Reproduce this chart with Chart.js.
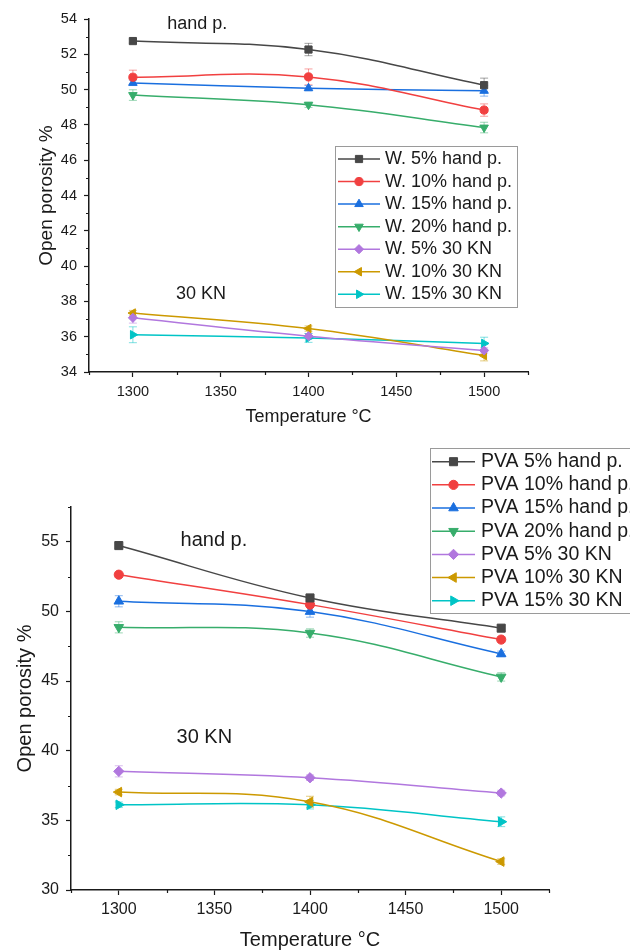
<!DOCTYPE html>
<html>
<head>
<meta charset="utf-8">
<title>Open porosity vs temperature</title>
<script src="https://cdn.jsdelivr.net/npm/chart.js@4/dist/chart.umd.min.js"></script>
<style>
  html, body { margin: 0; padding: 0; background: #ffffff; }
  #wrap { position: relative; width: 630px; height: 950px; overflow: hidden; background: #ffffff; }
  .panel { position: absolute; left: 0; width: 630px; }
</style>
</head>
<body>
<div id="wrap">
  <div class="panel" style="top:0;height:440px"><canvas id="topChart" width="630" height="440"></canvas></div>
  <div class="panel" style="top:440px;height:510px"><canvas id="bottomChart" width="630" height="510"></canvas></div>
</div>
<script>
// ---- shared x values -------------------------------------------------------
const temperatures = [1300, 1400, 1500];
const xMajorTicks = [1300, 1350, 1400, 1450, 1500];
const xMinorTicks = [1275, 1325, 1375, 1425, 1475, 1525];

// ---- upper panel: W. series ------------------------------------------------
const wLabels = ['W. 5% hand p.', 'W. 10% hand p.', 'W. 15% hand p.', 'W. 20% hand p.',
                 'W. 5% 30 KN', 'W. 10% 30 KN', 'W. 15% 30 KN'];
const w5Hand   = [52.75, 52.27, 50.25];
const w10Hand  = [50.70, 50.72, 48.84];
const w15Hand  = [50.38, 50.08, 49.93];
const w20Hand  = [49.69, 49.14, 47.85];
const w5Kn     = [37.07, 36.03, 35.22];
const w10Kn    = [37.34, 36.46, 34.93];
const w15Kn    = [36.11, 35.93, 35.62];
const w5HandErr  = [0.12, 0.35, 0.40];
const w10HandErr = [0.40, 0.45, 0.35];
const w15HandErr = [0.15, 0.15, 0.30];
const w20HandErr = [0.30, 0.15, 0.30];
const w5KnErr    = [0.30, 0.15, 0.15];
const w10KnErr   = [0.15, 0.15, 0.30];
const w15KnErr   = [0.45, 0.25, 0.35];
const topYTicks = [34, 36, 38, 40, 42, 44, 46, 48, 50, 52, 54];
const topYMinor = [35, 37, 39, 41, 43, 45, 47, 49, 51, 53];

// ---- lower panel: PVA series -----------------------------------------------
const pvaLabels = ['PVA 5% hand p.', 'PVA 10% hand p.', 'PVA 15% hand p.', 'PVA 20% hand p.',
                   'PVA 5% 30 KN', 'PVA 10% 30 KN', 'PVA 15% 30 KN'];
const pva5Hand  = [54.73, 50.97, 48.80];
const pva10Hand = [52.64, 50.49, 47.98];
const pva15Hand = [50.73, 49.99, 46.95];
const pva20Hand = [48.86, 48.45, 45.30];
const pva5Kn    = [38.52, 38.06, 36.96];
const pva10Kn   = [37.03, 36.33, 32.04];
const pva15Kn   = [36.12, 36.12, 34.90];
const pva5HandErr  = [0.20, 0.20, 0.20];
const pva10HandErr = [0.20, 0.20, 0.20];
const pva15HandErr = [0.40, 0.40, 0.20];
const pva20HandErr = [0.40, 0.30, 0.30];
const pva5KnErr    = [0.40, 0.20, 0.20];
const pva10KnErr   = [0.20, 0.40, 0.20];
const pva15KnErr   = [0.20, 0.30, 0.35];
const bottomYTicks = [30, 35, 40, 45, 50, 55];
const bottomYMinor = [32.5, 37.5, 42.5, 47.5, 52.5, 57.5];

// ---- series appearance -------------------------------------------------------
const seriesStyles = [
  { color: '#474747', pointStyle: 'rect',     rotation: 0,   radius: 6.2 },
  { color: '#F14040', pointStyle: 'circle',   rotation: 0,   radius: 5 },
  { color: '#1A6FDF', pointStyle: 'triangle', rotation: 0,   radius: 6 },
  { color: '#37AD6B', pointStyle: 'triangle', rotation: 180, radius: 6 },
  { color: '#B177DE', pointStyle: 'rectRot',  rotation: 0,   radius: 5.6 },
  { color: '#CC9900', pointStyle: 'triangle', rotation: 270, radius: 6 },
  { color: '#00C4C6', pointStyle: 'triangle', rotation: 90,  radius: 6 }
];

const FONT = "'Liberation Sans', Arial, Helvetica, sans-serif";
const INK = '#1a1a1a';

function hexToRgba(hex, a) {
  const n = parseInt(hex.slice(1), 16);
  return 'rgba(' + ((n >> 16) & 255) + ',' + ((n >> 8) & 255) + ',' + (n & 255) + ',' + a + ')';
}

function buildDatasets(labels, seriesValues, seriesErrors, markerScale) {
  return labels.map((label, i) => {
    const st = seriesStyles[i];
    const r = st.radius * markerScale;
    return {
      label: label,
      data: temperatures.map((t, j) => ({ x: t, y: seriesValues[i][j] })),
      errors: seriesErrors[i],
      borderColor: st.color,
      backgroundColor: st.color,
      borderWidth: 1.5,
      tension: 0.4,
      pointStyle: st.pointStyle,
      pointRotation: st.rotation,
      pointRadius: r,
      pointHoverRadius: r,
      pointBorderWidth: 1,
      pointBorderColor: st.color,
      pointBackgroundColor: st.color,
      clip: false
    };
  });
}

// vertical error bars with caps, drawn under the markers
const errorBarPlugin = {
  id: 'errorBars',
  beforeDatasetsDraw(chart) {
    const ctx = chart.ctx;
    const yScale = chart.scales.y;
    chart.data.datasets.forEach((ds, i) => {
      if (!ds.errors) return;
      const meta = chart.getDatasetMeta(i);
      ctx.save();
      ctx.strokeStyle = hexToRgba(ds.borderColor, 0.5);
      ctx.lineWidth = 1;
      meta.data.forEach((pt, j) => {
        const v = ds.data[j].y, e = ds.errors[j];
        const yHi = yScale.getPixelForValue(v + e);
        const yLo = yScale.getPixelForValue(v - e);
        const x = pt.x;
        ctx.beginPath();
        ctx.moveTo(x, yHi); ctx.lineTo(x, yLo);
        ctx.moveTo(x - 4, yHi); ctx.lineTo(x + 4, yHi);
        ctx.moveTo(x - 4, yLo); ctx.lineTo(x + 4, yLo);
        ctx.stroke();
      });
      ctx.restore();
    });
  }
};

// short minor tick marks on both axes
const minorTickPlugin = {
  id: 'minorTicks',
  afterDraw(chart, args, opts) {
    const ctx = chart.ctx;
    const area = chart.chartArea;
    const xs = chart.scales.x, ys = chart.scales.y;
    ctx.save();
    ctx.strokeStyle = INK;
    ctx.lineWidth = 1.2;
    ctx.beginPath();
    (opts.x || []).forEach(v => {
      const px = Math.round(xs.getPixelForValue(v)) + 0.5;
      ctx.moveTo(px, area.bottom); ctx.lineTo(px, area.bottom + 3);
    });
    (opts.y || []).forEach(v => {
      const py = Math.round(ys.getPixelForValue(v)) + 0.5;
      ctx.moveTo(area.left, py); ctx.lineTo(area.left - 3, py);
    });
    ctx.stroke();
    ctx.restore();
  }
};

// group captions placed in data coordinates
const captionPlugin = {
  id: 'captions',
  afterDraw(chart, args, opts) {
    const ctx = chart.ctx;
    ctx.save();
    ctx.fillStyle = INK;
    ctx.font = opts.size + 'px ' + FONT;
    ctx.textAlign = 'left';
    ctx.textBaseline = 'middle';
    (opts.items || []).forEach(it => {
      ctx.fillText(it.text, chart.scales.x.getPixelForValue(it.x), chart.scales.y.getPixelForValue(it.y));
    });
    ctx.restore();
  }
};

// framed legend with line + marker samples
const boxLegendPlugin = {
  id: 'boxLegend',
  afterDraw(chart, args, o) {
    const ctx = chart.ctx;
    const drawPoint = Chart.helpers && Chart.helpers.drawPoint;
    ctx.save();
    ctx.fillStyle = '#ffffff';
    ctx.fillRect(o.left, o.top, o.width, o.height);
    ctx.strokeStyle = '#9a9a9a';
    ctx.lineWidth = 1;
    ctx.strokeRect(o.left + 0.5, o.top + 0.5, o.width, o.height);
    ctx.font = o.size + 'px ' + FONT;
    ctx.textBaseline = 'middle';
    ctx.textAlign = 'left';
    chart.data.datasets.forEach((ds, i) => {
      const y = o.firstRow + i * o.rowGap;
      ctx.strokeStyle = ds.borderColor;
      ctx.lineWidth = 1.5;
      ctx.beginPath();
      ctx.moveTo(o.lineStart, y); ctx.lineTo(o.lineEnd, y);
      ctx.stroke();
      if (drawPoint) {
        ctx.fillStyle = ds.backgroundColor;
        ctx.strokeStyle = ds.borderColor;
        ctx.lineWidth = 1;
        drawPoint(ctx, { pointStyle: ds.pointStyle, radius: ds.pointRadius, rotation: ds.pointRotation, borderWidth: 1 },
                  (o.lineStart + o.lineEnd) / 2, y);
      }
      ctx.fillStyle = INK;
      ctx.fillText(ds.label, o.textX, y);
    });
    ctx.restore();
  }
};

function axisStyle() {
  return {
    grid: { drawOnChartArea: false, drawTicks: true, tickLength: 5, tickColor: INK, tickWidth: 1.2 },
    border: { display: true, color: INK, width: 1.5 }
  };
}

function makeChart(canvasId, p) {
  return new Chart(document.getElementById(canvasId), {
    type: 'line',
    data: { datasets: p.datasets },
    options: {
      responsive: false,
      animation: false,
      devicePixelRatio: 1,
      events: [],
      layout: { padding: p.padding },
      plugins: {
        legend: { display: false },
        tooltip: { enabled: false },
        minorTicks: { x: xMinorTicks, y: p.yMinor },
        captions: { size: p.captionSize, items: p.captions },
        boxLegend: p.legend
      },
      scales: {
        x: Object.assign(axisStyle(), {
          type: 'linear',
          min: 1275, max: 1525,
          afterBuildTicks: s => { s.ticks = xMajorTicks.map(v => ({ value: v })); },
          afterFit: s => { s.height = p.xAxisHeight; },
          ticks: { color: INK, font: { family: FONT, size: p.tickSize }, padding: p.xTickPad,
                   maxRotation: 0, autoSkip: false, callback: v => String(v) },
          title: { display: true, text: 'Temperature °C', color: INK,
                   font: { family: FONT, size: p.xTitleSize, lineHeight: 1.0 },
                   padding: { top: 0, bottom: p.xTitlePad } }
        }),
        y: Object.assign(axisStyle(), {
          type: 'linear',
          min: p.yMin, max: p.yMax,
          afterBuildTicks: s => { s.ticks = p.yTicks.map(v => ({ value: v })); },
          afterFit: s => { s.width = p.yAxisWidth; },
          ticks: { color: INK, font: { family: FONT, size: p.tickSize }, padding: p.yTickPad,
                   autoSkip: false, callback: v => String(v) },
          title: { display: true, text: 'Open porosity %', color: INK,
                   font: { family: FONT, size: p.yTitleSize, lineHeight: 1.0 },
                   padding: { top: p.yTitlePad, bottom: 0 } }
        })
      }
    },
    plugins: [errorBarPlugin, minorTickPlugin, captionPlugin, boxLegendPlugin]
  });
}

// upper panel
makeChart('topChart', {
  datasets: buildDatasets(wLabels,
    [w5Hand, w10Hand, w15Hand, w20Hand, w5Kn, w10Kn, w15Kn],
    [w5HandErr, w10HandErr, w15HandErr, w20HandErr, w5KnErr, w10KnErr, w15KnErr], 0.82),
  padding: { left: 0, right: 102, top: 19, bottom: 0 },
  yMin: 34, yMax: 54, yTicks: topYTicks, yMinor: topYMinor,
  xAxisHeight: 68, yAxisWidth: 89,
  tickSize: 14.5, xTickPad: 6, yTickPad: 7,
  xTitleSize: 18, xTitlePad: 14, yTitleSize: 19, yTitlePad: 37,
  captionSize: 18,
  captions: [ { text: 'hand p.', x: 1319.5, y: 53.73 }, { text: '30 KN', x: 1324.5, y: 38.44 } ],
  legend: { left: 335, top: 146, width: 182, height: 161, firstRow: 159, rowGap: 22.55,
            lineStart: 338, lineEnd: 380, textX: 385, size: 18 }
});

// lower panel
makeChart('bottomChart', {
  datasets: buildDatasets(pvaLabels,
    [pva5Hand, pva10Hand, pva15Hand, pva20Hand, pva5Kn, pva10Kn, pva15Kn],
    [pva5HandErr, pva10HandErr, pva15HandErr, pva20HandErr, pva5KnErr, pva10KnErr, pva15KnErr], 0.92),
  padding: { left: 0, right: 81, top: 67, bottom: 0 },
  yMin: 30, yMax: 57.5, yTicks: bottomYTicks, yMinor: bottomYMinor,
  xAxisHeight: 60, yAxisWidth: 71,
  tickSize: 16, xTickPad: 5, yTickPad: 7,
  xTitleSize: 20, xTitlePad: 0, yTitleSize: 20, yTitlePad: 15,
  captionSize: 20,
  captions: [ { text: 'hand p.', x: 1332.3, y: 55.07 }, { text: '30 KN', x: 1330.2, y: 40.98 } ],
  legend: { left: 430, top: 8, width: 210, height: 165, firstRow: 21.7, rowGap: 23.17,
            lineStart: 432, lineEnd: 475, textX: 481, size: 19.5 }
});
</script>
</body>
</html>
